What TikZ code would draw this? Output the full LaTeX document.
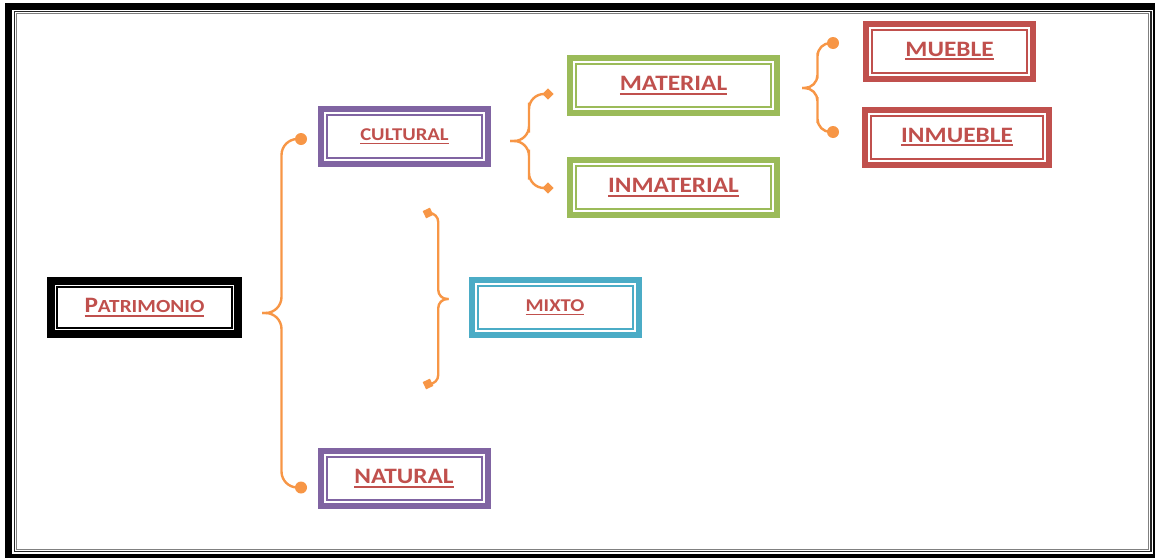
\documentclass[tikz,border=0pt]{standalone}
\usepackage{fontspec}
\setmainfont{Carlito}[FakeStretch=1.15]
\usepackage{tikz}
\usetikzlibrary{positioning}
\usetikzlibrary{calc}

\definecolor{txtred}{HTML}{C0504D}
\definecolor{cultpurple}{HTML}{8064A2}
\definecolor{matgreen}{HTML}{9BBB59}
\definecolor{mixblue}{HTML}{4BACC6}
\definecolor{mueblered}{HTML}{C0504D}
\definecolor{braceorange}{HTML}{F79646}

\newcommand{\ulbl}[1]{\sbox0{#1}\rlap{\rule[-4pt]{\wd0}{1.8pt}}\usebox0}

\tikzset{
  dblbox/.style={draw=#1, line width=6pt, outer sep=0pt, inner sep=0pt,
    minimum width=167pt, minimum height=55pt, text=txtred,
    font=\bfseries\fontsize{22}{24}\selectfont,
    path picture={\draw[#1, line width=2pt]
      ([shift={(6pt,-6pt)}]path picture bounding box.north west) rectangle
      ([shift={(-6pt,6pt)}]path picture bounding box.south east);}},
  brace/.style={draw=braceorange, line width=2.4pt, rounded corners=#1},
  brace/.default=15pt,
  dotend/.style={circle, fill=braceorange, minimum size=12pt, inner sep=0pt},
  dmdend/.style={fill=braceorange, minimum size=8pt, inner sep=0pt, rotate=45},
  sqend/.style={fill=braceorange, minimum size=8pt, inner sep=0pt, rotate=25},
}

\begin{document}
\begin{tikzpicture}[x=1pt, y=-1pt]
\useasboundingbox (0,0) rectangle (1155,557);

% page frame
\draw[line width=6.5pt] (8.3,6.3) rectangle (1156,557.7);
\draw[black!85, line width=1.5pt] (14.5,11.5) rectangle (1151,551.5);
\draw[gray, line width=1pt] (16.8,13.8) rectangle (1148.7,549.2);

% boxes
\node[dblbox=black, line width=8pt, minimum width=187pt, minimum height=53pt] (patr) at (144.5,307.5)
  {\ulbl{P{\fontsize{18.5}{20}\selectfont ATRIMONIO}}};
\node[dblbox=cultpurple, font=\bfseries\fontsize{18}{22}\selectfont] (cult) at (404.5,136.5) {\ulbl{CULTURAL}};
\node[dblbox=cultpurple] (nat) at (404,478.5) {\ulbl{NATURAL}};
\node[dblbox=mixblue, font=\bfseries\fontsize{18}{22}\selectfont] (mixto) at (555,307.5) {\ulbl{MIXTO}};
\node[dblbox=matgreen, minimum width=207pt] (mat) at (673.5,85.5) {\ulbl{MATERIAL}};
\node[dblbox=matgreen, minimum width=207pt, below=47pt of mat] (inmat) {\ulbl{INMATERIAL}};
\node[dblbox=mueblered] (mueb) at (949.5,51) {\ulbl{MUEBLE}};
\node[dblbox=mueblered, minimum width=184pt] (inmueb) at (957,137) {\ulbl{INMUEBLE}};

% brace ends
\coordinate (t1) at ([shift={(24pt,-5.5pt)}]patr.east);
\node[dotend] (e1a) at ([shift={(-20pt,-2.5pt)}]cult.west) {};
\node[dotend] (e1b) at ([shift={(-19.5pt,-9pt)}]nat.west) {};
\coordinate (t2) at ([shift={(22pt,-4.5pt)}]cult.east);
\node[dmdend] (e2a) at ([shift={(-22pt,-8.5pt)}]mat.west) {};
\node[dmdend] (e2b) at ([shift={(-22pt,-0.5pt)}]inmat.west) {};
\coordinate (t3) at ([shift={(25pt,-2.5pt)}]mat.east);
\node[dotend] (e3a) at ([shift={(-33pt,8pt)}]mueb.west) {};
\node[dotend] (e3b) at ([shift={(-32pt,5pt)}]inmueb.west) {};
\coordinate (t4) at ([shift={(-23pt,8.5pt)}]mixto.west);
\node[sqend] (e4a) at (428,213) {};
\node[sqend] (e4b) at (428,384) {};

% braces
\draw[brace=16pt] (t1) -| ($(t1)!.5!(e1a)$) |- (e1a.center);
\draw[brace=16pt] (t1) -| ($(t1)!.5!(e1b)$) |- (e1b.center);
\draw[brace=15pt] (t2) -| ($(t2)!.5!(e2a)$) |- (e2a.center);
\draw[brace=15pt] (t2) -| ($(t2)!.5!(e2b)$) |- (e2b.center);
\draw[brace=13pt] (t3) -| ($(t3)!.5!(e3a)$) |- (e3a.center);
\draw[brace=13pt] (t3) -| ($(t3)!.5!(e3b)$) |- (e3b.center);
\draw[brace=9pt] (t4) -| ($(t4)!.5!(e4a)$) |- (e4a.center);
\draw[brace=9pt] (t4) -| ($(t4)!.5!(e4b)$) |- (e4b.center);
\end{tikzpicture}
\end{document}
